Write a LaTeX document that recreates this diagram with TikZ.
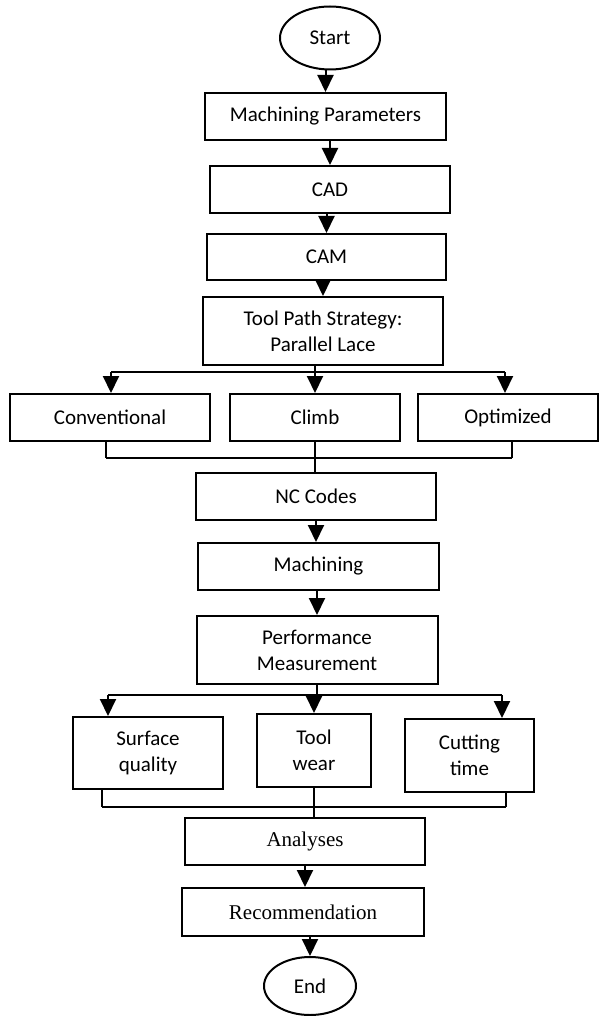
\documentclass[tikz,border=0pt]{standalone}
\usepackage{fontspec}
\setmainfont{Carlito}
\newfontfamily\timesfont{Liberation Serif}
\usetikzlibrary{shapes.geometric,arrows.meta}
\begin{document}
\begin{tikzpicture}[
    x=1pt, y=-1pt,
    font=\fontsize{21}{26}\selectfont,
    block/.style={draw, line width=2pt, rectangle, align=center, inner sep=0pt},
    terminal/.style={draw, line width=2pt, ellipse, inner sep=0pt},
    line/.style={line width=2pt},
    arrow/.style={line width=2pt, -{Triangle[length=17pt, width=16pt]}}
]
\useasboundingbox (0,0) rectangle (600,1016);
% Components
\node[terminal, minimum width=100pt, minimum height=63pt] (start) at (330,38) {Start};
\node[block, minimum width=241pt, minimum height=47pt] (params) at (325.5,116.5) {Machining Parameters};
\node[block, minimum width=240pt, minimum height=47pt] (cad) at (330,189.5) {CAD};
\node[block, minimum width=239pt, minimum height=46pt] (cam) at (326.5,257) {CAM};
\node[block, minimum width=240pt, minimum height=68pt] (toolpath) at (323,331) {Tool Path Strategy:\\Parallel Lace};
\node[block, minimum width=200pt, minimum height=47pt] (conv) at (110,417.5) {Conventional};
\node[block, minimum width=170pt, minimum height=47pt] (climb) at (315,417.5) {Climb};
\node[block, minimum width=180pt, minimum height=47pt] (optim) at (508,417.5) {Optimized};
\node[block, minimum width=240pt, minimum height=47pt] (nccodes) at (316,496.5) {NC Codes};
\node[block, minimum width=241pt, minimum height=47pt] (machining) at (318.5,566.5) {Machining};
\node[block, minimum width=241pt, minimum height=68pt] (perf) at (317,650) {Performance\\Measurement};
\node[block, minimum width=150pt, minimum height=72pt] (surface) at (148,753) {Surface\\quality};
\node[block, minimum width=114pt, minimum height=73pt] (toolwear) at (314,750.5) {Tool\\wear};
\node[block, minimum width=129pt, minimum height=73pt] (cuttime) at (469.5,755.5) {Cutting\\time};
\node[block, minimum width=240pt, minimum height=47pt, font=\fontsize{21}{26}\timesfont] (analyses) at (305,841.5) {Analyses};
\node[block, minimum width=242pt, minimum height=48pt, font=\fontsize{21}{26}\timesfont] (recom) at (303,912) {Recommendation};
\node[terminal, minimum width=92pt, minimum height=58pt] (stop) at (310,986) {End};
% Junctions
\coordinate (split1) at (111,372);
\coordinate (split2) at (505,372);
\coordinate (join1) at (106,458);
\coordinate (join2) at (512,458);
\coordinate (split3) at (108,695);
\coordinate (split4) at (502,695);
\coordinate (join3) at (102,807);
\coordinate (join4) at (506,807);
% Arrows
\draw[arrow] (start.south -| params.north) -- (params.north);
\draw[arrow] (params.south -| cad.north) -- (cad.north);
\draw[arrow] (cad.south -| cam.north) -- (cam.north);
\draw[arrow] (cam.south -| toolpath.north) -- (toolpath.north);
\draw[line] (split1) -- (split2);
\draw[line] (toolpath.south -| climb.north) -- (climb.north |- split1);
\draw[arrow] (split1) -- (split1 |- conv.north);
\draw[arrow] (climb.north |- split1) -- (climb.north);
\draw[arrow] (split2) -- (split2 |- optim.north);
\draw[line] (join1) -- (join2);
\draw[line] (join1 |- conv.south) -- (join1);
\draw[line] (join2 |- optim.south) -- (join2);
\draw[line] (climb.south) -- (climb.south |- nccodes.north);
\draw[arrow] (nccodes.south) -- (nccodes.south |- machining.north);
\draw[arrow] (machining.south -| perf.north) -- (perf.north);
\draw[line] (split3) -- (split4);
\draw[line] (perf.south) -- (perf.south |- split3);
\draw[arrow] (split3) -- (split3 |- surface.north);
\draw[arrow] (toolwear.north |- split3) -- (toolwear.north);
\draw[arrow] (split4) -- (split4 |- cuttime.north);
\draw[line] (join3) -- (join4);
\draw[line] (join3 |- surface.south) -- (join3);
\draw[line] (join4 |- cuttime.south) -- (join4);
\draw[line] (toolwear.south) -- (toolwear.south |- analyses.north);
\draw[arrow] (analyses.south) -- (analyses.south |- recom.north);
\draw[arrow] (stop.north |- recom.south) -- (stop.north);
\end{tikzpicture}
\end{document}
